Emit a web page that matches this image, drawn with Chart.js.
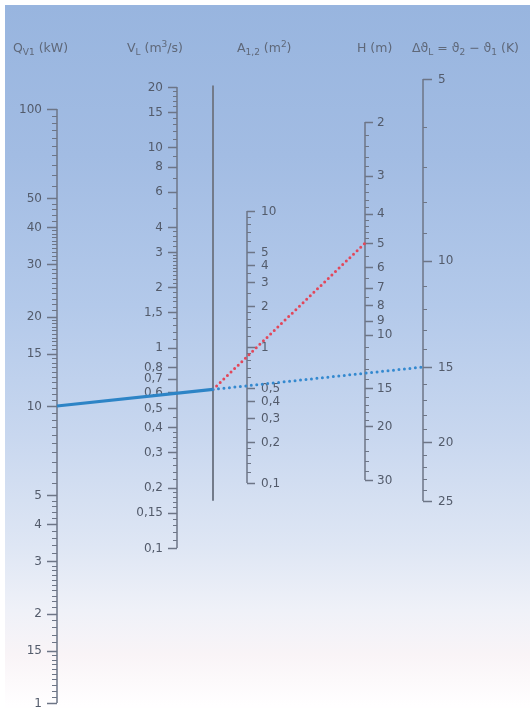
<!DOCTYPE html>
<html lang="de">
<head>
<meta charset="utf-8">
<title>Nomogramm Kühlleistung</title>
<script src="https://cdn.jsdelivr.net/npm/chart.js@4.4.1/dist/chart.umd.min.js"></script>
<style>
  html, body { margin: 0; padding: 0; background: #fff; }
  #wrap { position: relative; width: 530px; height: 708px; overflow: hidden; }
  #bg {
    position: absolute; left: 5px; top: 5px; right: 0; bottom: 0;
    background: linear-gradient(to bottom,
      #98b5df 0px, #a2bce3 150px, #b3c9ea 300px, #c8d7ef 430px,
      #dee6f4 540px, #eff1f8 605px, #f9f4f7 650px, #fffeff 700px);
  }
  #nomo { position: absolute; left: 0; top: 0; }
</style>
</head>
<body>
<div id="wrap">
  <div id="bg"></div>
  <canvas id="nomo" width="530" height="708"></canvas>
</div>
<script>
// ---- Skalenwerte ----
const qTicks  = [100, 50, 40, 30, 20, 15, 10, 5, 4, 3, 2, 1.5, 1];
const qLabels = ["100", "50", "40", "30", "20", "15", "10", "5", "4", "3", "2", "15", "1"];
const qMinor  = [95, 90, 85, 80, 75, 70, 65, 60, 55, 48, 46, 44, 42,
                 39, 38, 37, 36, 35, 34, 33, 32, 31, 29, 28, 27, 26, 25, 24, 23, 22, 21,
                 19.5, 19, 18.5, 18, 17.5, 17, 16.5, 16, 15.5, 14.5, 14, 13.5, 13, 12.5, 12, 11.5, 11, 10.5,
                 9.5, 9, 8.5, 8, 7.5, 7, 6.5, 6, 5.5, 4.8, 4.6, 4.4, 4.2, 3.8, 3.6, 3.4, 3.2,
                 2.9, 2.8, 2.7, 2.6, 2.5, 2.4, 2.3, 2.2, 2.1, 1.9, 1.8, 1.7, 1.6,
                 1.45, 1.4, 1.35, 1.3, 1.25, 1.2, 1.15, 1.1, 1.05];

const vTicks  = [20, 15, 10, 8, 6, 4, 3, 2, 1.5, 1, 0.8, 0.7, 0.6, 0.5, 0.4, 0.3, 0.2, 0.15, 0.1];
const vLabels = ["20", "15", "10", "8", "6", "4", "3", "2", "1,5", "1", "0,8", "0,7", "0,6",
                 "0,5", "0,4", "0,3", "0,2", "0,15", "0,1"];
const vMinor  = [19, 18, 17, 16, 14, 13, 12, 11, 9, 7, 5, 3.8, 3.6, 3.4, 3.2,
                 2.9, 2.8, 2.7, 2.6, 2.5, 2.4, 2.3, 2.2, 2.1, 1.9, 1.8, 1.7, 1.6,
                 1.4, 1.3, 1.2, 1.1, 0.9, 0.45, 0.38, 0.36, 0.34, 0.32,
                 0.28, 0.26, 0.24, 0.22, 0.19, 0.18, 0.17, 0.16, 0.14, 0.13, 0.12, 0.11];

const aTicks  = [10, 5, 4, 3, 2, 1, 0.5, 0.4, 0.3, 0.2, 0.1];
const aLabels = ["10", "5", "4", "3", "2", "1", "0,5", "0,4", "0,3", "0,2", "0,1"];
const aMinor  = [9, 8, 7, 6, 3.5, 2.5, 1.8, 1.6, 1.4, 1.2, 0.9, 0.8, 0.7, 0.6,
                 0.25, 0.18, 0.16, 0.14, 0.12];

const hTicks  = [2, 3, 4, 5, 6, 7, 8, 9, 10, 15, 20, 30];
const hLabels = ["2", "3", "4", "5", "6", "7", "8", "9", "10", "15", "20", "30"];
const hMinor  = [2.2, 2.4, 2.6, 2.8, 3.2, 3.4, 3.6, 3.8, 4.2, 4.4, 4.6, 4.8,
                 5.5, 6.5, 7.5, 11, 12, 13, 14, 16, 17, 18, 19, 22, 24, 26, 28];

const tTicks  = [5, 10, 15, 20, 25];
const tLabels = ["5", "10", "15", "20", "25"];
const tMinor  = [6, 7, 8, 9, 11, 12, 13, 14, 16, 17, 18, 19, 21, 22, 23, 24];

// Ablesebeispiel
const readQ = 10;   // kW
const readT = 15;   // K
const readH = 5;    // m
const pivotSpan = [120, 4.8]; // Zapfenlinie, in Q-Einheiten

// ---- Layout ----
const AREA_H = 708;
const AXIS_COLOR = "#6d7586";
const LABEL_COLOR = "#535b6b";
const FONT = "12px 'DejaVu Sans', sans-serif";

// log-Abbildung so wählen, dass die Skala an der richtigen Stelle steht
function logMap(vTop, pTop, vBot, pBot) {
  const k = (Math.log10(vBot) - Math.log10(vTop)) / (pBot - pTop);
  const l0 = Math.log10(vTop) - k * pTop;
  const l1 = Math.log10(vTop) + k * (AREA_H - pTop);
  return {
    min: Math.pow(10, Math.min(l0, l1)),
    max: Math.pow(10, Math.max(l0, l1)),
    reverse: l0 < l1,
    toPx: (v) => pTop + (Math.log10(v) - Math.log10(vTop)) / k,
    toVal: (px) => Math.pow(10, Math.log10(vTop) + k * (px - pTop))
  };
}

const MAP = {
  q: logMap(100, 109, 1, 703),
  v: logMap(20, 87, 0.1, 548),
  a: logMap(10, 211, 0.1, 483),
  h: logMap(2, 122, 30, 480),
  t: logMap(5, 79, 25, 501)
};

const X = { q: 57, v: 177, pivot: 213, a: 247, h: 365, t: 423 };

const AXES = [
  { id: "q", ticks: qTicks, labels: qLabels, minor: qMinor, side: -1, major: 10, small: 5, gap: 5 },
  { id: "v", ticks: vTicks, labels: vLabels, minor: vMinor, side: -1, major: 9, small: 4, gap: 5 },
  { id: "a", ticks: aTicks, labels: aLabels, minor: aMinor, side: 1, major: 8, small: 4, gap: 6 },
  { id: "h", ticks: hTicks, labels: hLabels, minor: hMinor, side: 1, major: 8, small: 4, gap: 4 },
  { id: "t", ticks: tTicks, labels: tLabels, minor: tMinor, side: 1, major: 9, small: 4, gap: 6 }
];

const TITLES = [
  { x: 13,  parts: [["Q", ""], ["V1", "sub"], [" (kW)", ""]] },
  { x: 127, parts: [["V", ""], ["L", "sub"], [" (m", ""], ["3", "sup"], ["/s)", ""]] },
  { x: 237, parts: [["A", ""], ["1,2", "sub"], [" (m", ""], ["2", "sup"], [")", ""]] },
  { x: 357, parts: [["H (m)", ""]] },
  { x: 412, parts: [["Δϑ", ""], ["L", "sub"], [" = ϑ", ""], ["2", "sub"], [" − ϑ", ""], ["1", "sub"], [" (K)", ""]] }
];

// Schnittpunkt der Ableselinie mit der Zapfenlinie
const pQ = MAP.q.toPx(readQ);
const pT = MAP.t.toPx(readT);
const pivotPx = pQ + (pT - pQ) * (X.pivot - X.q) / (X.t - X.q);

// Skalenstriche und Beschriftung
const nomoAxes = {
  id: "nomoAxes",
  beforeDatasetsDraw(chart) {
    const ctx = chart.ctx;
    const xs = chart.scales.x;
    ctx.save();
    AXES.forEach((ax) => {
      const s = chart.scales[ax.id];
      const x0 = xs.getPixelForValue(X[ax.id]);
      ctx.strokeStyle = AXIS_COLOR;
      ctx.lineWidth = 1;
      ctx.beginPath();
      ax.minor.forEach((v) => {
        const y = Math.round(s.getPixelForValue(v)) + 0.5;
        ctx.moveTo(x0, y);
        ctx.lineTo(x0 + ax.side * ax.small, y);
      });
      ctx.stroke();
      ctx.lineWidth = 1.3;
      ctx.beginPath();
      ax.ticks.forEach((v) => {
        const y = Math.round(s.getPixelForValue(v)) + 0.5;
        ctx.moveTo(x0, y);
        ctx.lineTo(x0 + ax.side * ax.major, y);
      });
      ctx.stroke();
      ctx.fillStyle = LABEL_COLOR;
      ctx.font = FONT;
      ctx.textAlign = ax.side < 0 ? "right" : "left";
      ctx.textBaseline = "middle";
      ax.ticks.forEach((v, i) => {
        ctx.fillText(ax.labels[i], x0 + ax.side * (ax.major + ax.gap), s.getPixelForValue(v) + 0.5);
      });
    });
    ctx.restore();
  },
  afterDraw(chart) {
    const ctx = chart.ctx;
    const xs = chart.scales.x;
    ctx.save();
    ctx.fillStyle = "#5f6879";
    ctx.textBaseline = "alphabetic";
    ctx.textAlign = "left";
    TITLES.forEach((t) => {
      let x = xs.getPixelForValue(t.x);
      t.parts.forEach(([txt, mode]) => {
        let y = 52;
        if (mode === "sub") { ctx.font = "9px 'DejaVu Sans', sans-serif"; y += 3; }
        else if (mode === "sup") { ctx.font = "9px 'DejaVu Sans', sans-serif"; y -= 5; }
        else ctx.font = "12.5px 'DejaVu Sans', sans-serif";
        ctx.fillText(txt, x, y);
        x += ctx.measureText(txt).width;
      });
    });
    ctx.restore();
  }
};

function axisLine(id, ticks) {
  return {
    data: [{ x: X[id], y: ticks[0] }, { x: X[id], y: ticks[ticks.length - 1] }],
    yAxisID: id, borderColor: AXIS_COLOR, borderWidth: 1.5, order: 2
  };
}

const datasets = [
  { // Ableselinie Q -> Zapfenlinie
    data: [{ x: X.q, y: readQ }, { x: X.pivot, y: MAP.q.toVal(pivotPx) }],
    yAxisID: "q", borderColor: "#2d84c6", borderWidth: 3.2, order: 0
  },
  { // weiter zu Δϑ
    data: [{ x: X.pivot, y: MAP.t.toVal(pivotPx) }, { x: X.t, y: readT }],
    yAxisID: "t", borderColor: "#3489cf", borderWidth: 3,
    borderDash: [0, 5.5], borderCapStyle: "round", order: 0
  },
  { // zu H
    data: [{ x: X.pivot, y: MAP.h.toVal(pivotPx) }, { x: X.h, y: readH }],
    yAxisID: "h", borderColor: "#e2475a", borderWidth: 3,
    borderDash: [0, 5], borderCapStyle: "round", order: 0
  },
  { // Zapfenlinie
    data: [{ x: X.pivot, y: pivotSpan[0] }, { x: X.pivot, y: pivotSpan[1] }],
    yAxisID: "q", borderColor: "#737b8a", borderWidth: 2, order: 2
  },
  axisLine("q", qTicks),
  axisLine("v", vTicks),
  axisLine("a", aTicks),
  axisLine("h", hTicks),
  axisLine("t", tTicks)
];

function yScale(id) {
  return { type: "logarithmic", display: false, min: MAP[id].min, max: MAP[id].max, reverse: MAP[id].reverse };
}

new Chart(document.getElementById("nomo"), {
  type: "scatter",
  data: { datasets: datasets.map((d) => Object.assign({ showLine: true, pointRadius: 0, pointHoverRadius: 0, tension: 0 }, d)) },
  options: {
    responsive: false,
    devicePixelRatio: 1,
    animation: false,
    events: [],
    layout: { padding: 0 },
    plugins: { legend: { display: false }, tooltip: { enabled: false } },
    scales: {
      x: { type: "linear", display: false, min: 0, max: 530 },
      q: yScale("q"),
      v: yScale("v"),
      a: yScale("a"),
      h: yScale("h"),
      t: yScale("t")
    }
  },
  plugins: [nomoAxes]
});
</script>
</body>
</html>
